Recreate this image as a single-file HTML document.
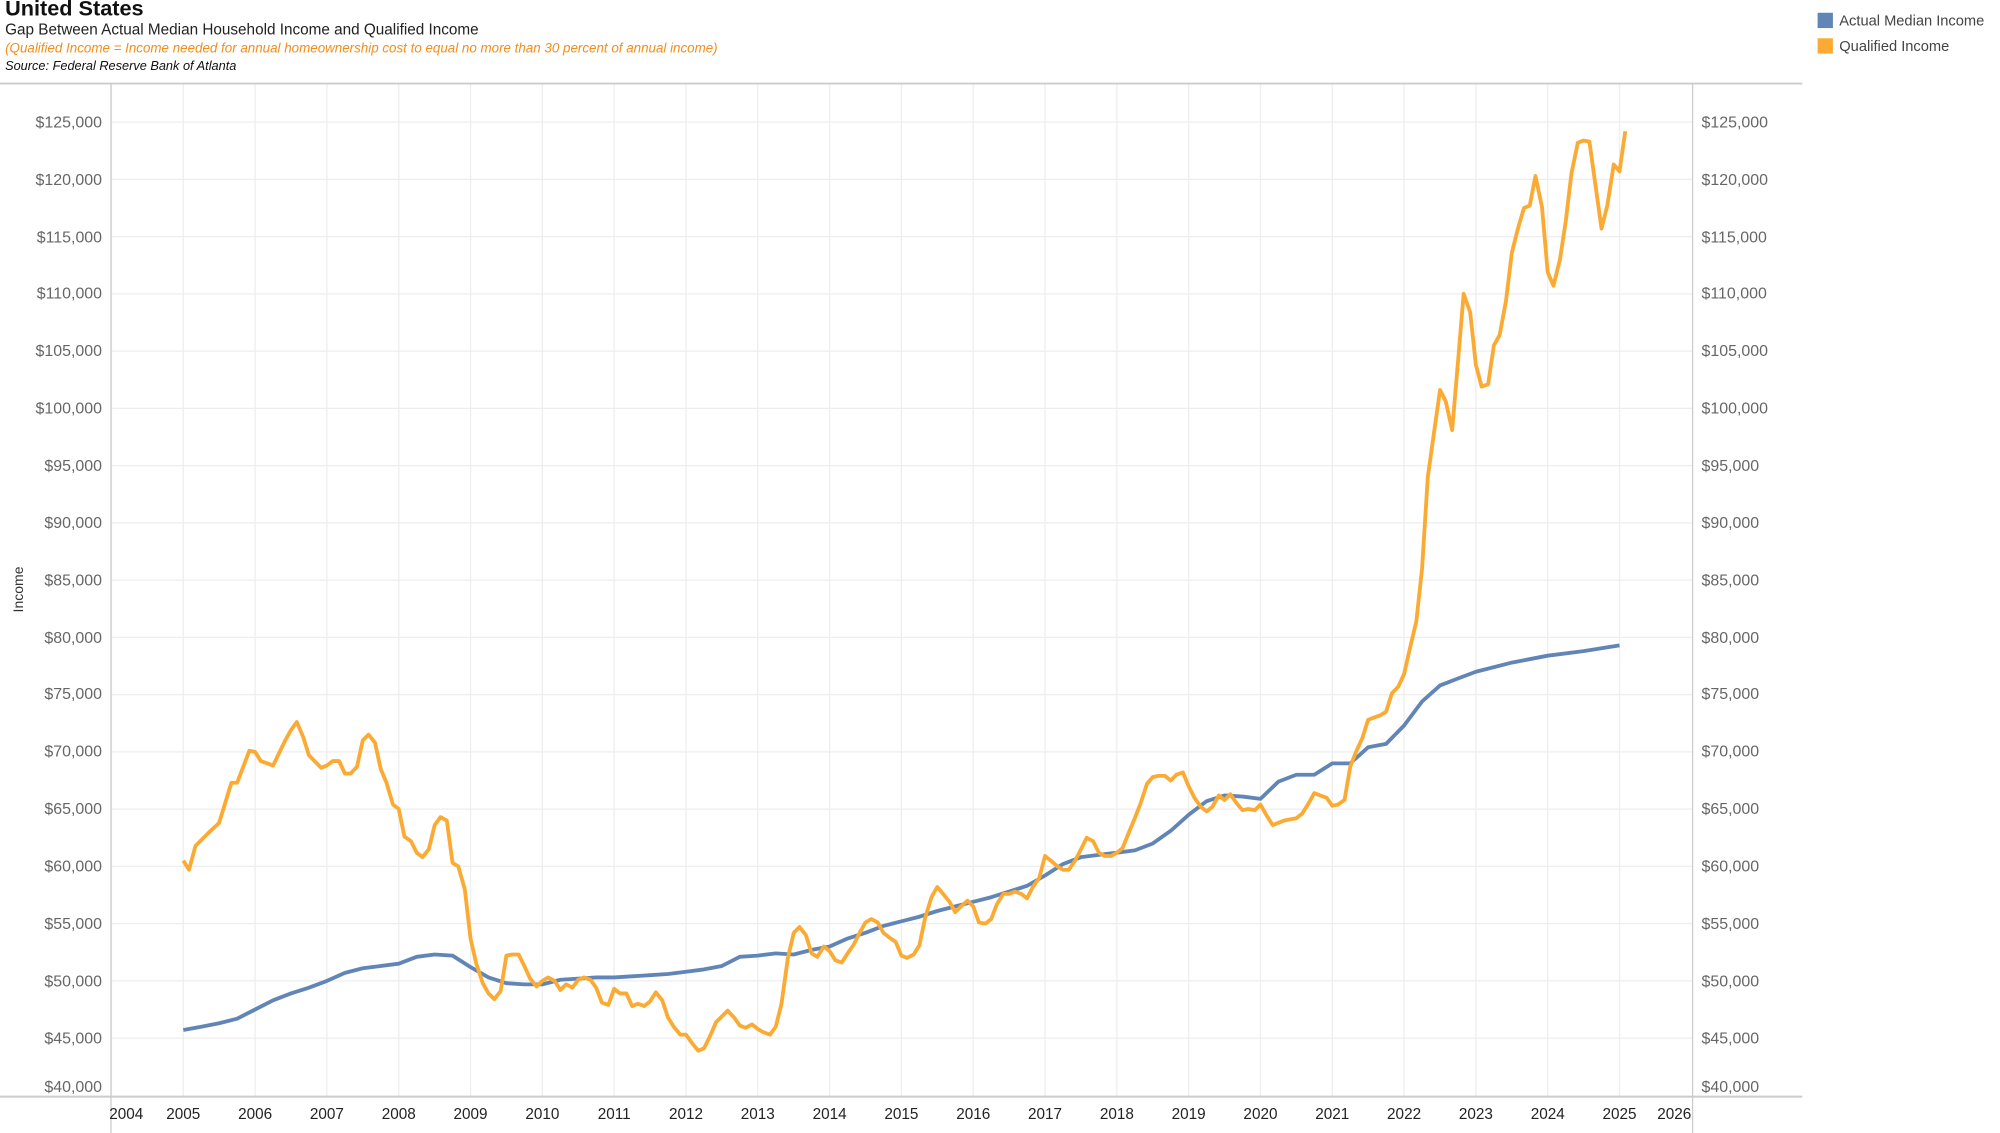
<!DOCTYPE html>
<html><head><meta charset="utf-8"><style>
html,body{margin:0;padding:0;background:#fff;}
svg{display:block;}
text{font-family:"Liberation Sans",sans-serif;}
.yl{font-size:12.5px;fill:#666;}
.xl{font-size:12px;fill:#222;text-anchor:middle;}
</style></head><body>
<svg id="s" width="2000" height="1133" viewBox="0 0 1568 888" preserveAspectRatio="none" xmlns="http://www.w3.org/2000/svg">
<rect width="1568" height="888" fill="#fff"/>
<text x="4" y="12" font-size="17" font-weight="bold" fill="#111">United States</text>
<text x="4" y="27" font-size="12" fill="#222">Gap Between Actual Median Household Income and Qualified Income</text>
<text x="4" y="41" font-size="10.5" font-style="italic" fill="#f28e1c">(Qualified Income = Income needed for annual homeownership cost to equal no more than 30 percent of annual income)</text>
<text x="4" y="55" font-size="10" font-style="italic" fill="#111">Source: Federal Reserve Bank of Atlanta</text>
<rect x="1425" y="10" width="12" height="12" fill="#6185b6"/>
<rect x="1425" y="30" width="12" height="12" fill="#fbab34"/>
<text x="1442" y="20" font-size="11.5" fill="#444">Actual Median Income</text>
<text x="1442" y="40" font-size="11.5" fill="#444">Qualified Income</text>
<g id="grid" stroke="#eeeeee" stroke-width="1"></g>
<line x1="0" y1="65.5" x2="1413" y2="65.5" stroke="#ccc" stroke-width="1.5"/>
<line x1="0" y1="859.5" x2="1413" y2="859.5" stroke="#ccc" stroke-width="1.5"/>
<line x1="87" y1="65" x2="87" y2="888" stroke="#ccc"/>
<line x1="1327" y1="65" x2="1327" y2="888" stroke="#ccc"/>
<text transform="translate(18,462) rotate(-90)" font-size="11" fill="#333" text-anchor="middle">Income</text>
<g class="yl" text-anchor="end">
<text x="80" y="100">$125,000</text><text x="80" y="145">$120,000</text><text x="80" y="190">$115,000</text><text x="80" y="234">$110,000</text><text x="80" y="279">$105,000</text><text x="80" y="324">$100,000</text><text x="80" y="369">$95,000</text><text x="80" y="414">$90,000</text><text x="80" y="459">$85,000</text><text x="80" y="504">$80,000</text><text x="80" y="548">$75,000</text><text x="80" y="593">$70,000</text><text x="80" y="638">$65,000</text><text x="80" y="683">$60,000</text><text x="80" y="728">$55,000</text><text x="80" y="773">$50,000</text><text x="80" y="818">$45,000</text><text x="80" y="856">$40,000</text>
</g>
<g class="yl" text-anchor="start">
<text x="1334" y="100">$125,000</text><text x="1334" y="145">$120,000</text><text x="1334" y="190">$115,000</text><text x="1334" y="234">$110,000</text><text x="1334" y="279">$105,000</text><text x="1334" y="324">$100,000</text><text x="1334" y="369">$95,000</text><text x="1334" y="414">$90,000</text><text x="1334" y="459">$85,000</text><text x="1334" y="504">$80,000</text><text x="1334" y="548">$75,000</text><text x="1334" y="593">$70,000</text><text x="1334" y="638">$65,000</text><text x="1334" y="683">$60,000</text><text x="1334" y="728">$55,000</text><text x="1334" y="773">$50,000</text><text x="1334" y="818">$45,000</text><text x="1334" y="856">$40,000</text>
</g>
<g class="xl">
<text x="99" y="877">2004</text><text x="143.7" y="877">2005</text><text x="200" y="877">2006</text><text x="256.3" y="877">2007</text><text x="312.6" y="877">2008</text><text x="368.9" y="877">2009</text><text x="425.2" y="877">2010</text><text x="481.5" y="877">2011</text><text x="537.8" y="877">2012</text><text x="594.1" y="877">2013</text><text x="650.4" y="877">2014</text><text x="706.7" y="877">2015</text><text x="763" y="877">2016</text><text x="819.3" y="877">2017</text><text x="875.6" y="877">2018</text><text x="931.9" y="877">2019</text><text x="988.2" y="877">2020</text><text x="1044.5" y="877">2021</text><text x="1100.8" y="877">2022</text><text x="1157.1" y="877">2023</text><text x="1213.4" y="877">2024</text><text x="1269.7" y="877">2025</text><text x="1326" y="877" text-anchor="end">2026</text>
</g>
<path id="blue" fill="none" stroke="#6185b6" stroke-width="3" stroke-linejoin="round"/>
<path id="orange" fill="none" stroke="#fbab34" stroke-width="3" stroke-linejoin="round"/>
</svg>
<script>
function X(t){return 143.7+(t-2005)*56.3;}
function Y(v){return 858.5-(v-40000)/5000*44.87;}
var g=document.getElementById('grid'),h='';
for(var yr=2004;yr<=2025;yr++){var x=X(yr);h+='<line x1="'+x+'" y1="66" x2="'+x+'" y2="860"/>';}
for(var v=45000;v<=125000;v+=5000){var y=Y(v);h+='<line x1="87" y1="'+y+'" x2="1327" y2="'+y+'"/>';}
g.innerHTML=h;
var B=[2005,45700,2005.25,46000,2005.5,46300,2005.75,46700,2006,47500,2006.25,48300,2006.5,48900,2006.75,49400,2007,50000,2007.25,50700,2007.5,51100,2007.75,51300,2008,51500,2008.25,52100,2008.5,52300,2008.75,52200,2009,51200,2009.25,50300,2009.5,49800,2009.75,49700,2010,49700,2010.25,50100,2010.5,50200,2010.75,50300,2011,50300,2011.5,50500,2011.75,50600,2012,50800,2012.25,51000,2012.5,51300,2012.75,52100,2013,52200,2013.25,52400,2013.5,52300,2013.75,52700,2014,53000,2014.25,53700,2014.5,54200,2014.75,54800,2015,55200,2015.25,55600,2015.5,56100,2015.75,56500,2016,56900,2016.25,57300,2016.5,57800,2016.75,58300,2017,59200,2017.25,60200,2017.5,60800,2017.75,61000,2018,61200,2018.25,61400,2018.5,62000,2018.75,63100,2019,64500,2019.25,65700,2019.5,66200,2019.75,66100,2020,65900,2020.25,67400,2020.5,68000,2020.75,68000,2021,69000,2021.25,69000,2021.5,70400,2021.75,70700,2022,72300,2022.25,74400,2022.5,75800,2022.75,76400,2023,77000,2023.5,77800,2024,78400,2024.5,78800,2025,79300];
var O=[2005.0,60500,2005.08,59700,2005.17,61800,2005.33,62800,2005.5,63800,2005.67,67300,2005.75,67300,2005.92,70100,2006.0,70000,2006.08,69200,2006.25,68800,2006.42,71000,2006.5,71900,2006.58,72600,2006.67,71300,2006.75,69700,2006.92,68600,2007.0,68800,2007.08,69200,2007.17,69200,2007.25,68100,2007.33,68100,2007.42,68700,2007.5,71000,2007.58,71500,2007.67,70800,2007.75,68500,2007.83,67300,2007.92,65400,2008.0,65000,2008.08,62600,2008.17,62200,2008.25,61200,2008.33,60800,2008.42,61500,2008.5,63600,2008.58,64300,2008.67,64000,2008.75,60300,2008.83,60000,2008.92,58000,2009.0,53700,2009.08,51500,2009.17,49800,2009.25,48900,2009.33,48400,2009.42,49100,2009.5,52200,2009.58,52300,2009.67,52300,2009.75,51300,2009.83,50200,2009.92,49500,2010.0,50000,2010.08,50300,2010.17,50000,2010.25,49200,2010.33,49700,2010.42,49400,2010.5,50100,2010.58,50300,2010.67,50100,2010.75,49400,2010.83,48100,2010.92,47900,2011.0,49300,2011.08,48900,2011.17,48900,2011.25,47800,2011.33,48000,2011.42,47800,2011.5,48200,2011.58,49000,2011.67,48300,2011.75,46800,2011.83,46000,2011.92,45300,2012.0,45300,2012.08,44600,2012.17,43900,2012.25,44100,2012.33,45100,2012.42,46400,2012.5,46900,2012.58,47400,2012.67,46800,2012.75,46100,2012.83,45900,2012.92,46200,2013.0,45800,2013.08,45500,2013.17,45300,2013.25,46000,2013.33,48000,2013.42,52000,2013.5,54200,2013.58,54700,2013.67,54000,2013.75,52400,2013.83,52100,2013.92,53000,2014.0,52600,2014.08,51800,2014.17,51600,2014.25,52400,2014.33,53100,2014.42,54200,2014.5,55100,2014.58,55400,2014.67,55100,2014.75,54200,2014.83,53800,2014.92,53400,2015.0,52200,2015.08,52000,2015.17,52300,2015.25,53100,2015.33,55500,2015.42,57300,2015.5,58200,2015.58,57600,2015.67,56900,2015.75,56000,2015.83,56500,2015.92,57000,2016.0,56500,2016.08,55100,2016.17,55000,2016.25,55400,2016.33,56700,2016.42,57600,2016.5,57600,2016.58,57800,2016.67,57600,2016.75,57200,2016.83,58200,2016.92,59000,2017.0,60900,2017.08,60500,2017.17,60000,2017.25,59700,2017.33,59700,2017.42,60500,2017.5,61500,2017.58,62500,2017.67,62200,2017.75,61200,2017.83,60900,2017.92,60900,2018.0,61200,2018.08,61600,2018.17,63000,2018.25,64200,2018.33,65500,2018.42,67200,2018.5,67800,2018.58,67900,2018.67,67900,2018.75,67500,2018.83,68000,2018.92,68200,2019.0,67000,2019.08,66000,2019.17,65200,2019.25,64800,2019.33,65200,2019.42,66200,2019.5,65800,2019.58,66300,2019.67,65500,2019.75,64900,2019.83,65000,2019.92,64900,2020.0,65400,2020.08,64500,2020.17,63600,2020.25,63800,2020.33,64000,2020.5,64200,2020.58,64600,2020.67,65500,2020.75,66400,2020.83,66200,2020.92,66000,2021.0,65300,2021.08,65400,2021.17,65800,2021.25,68700,2021.33,70000,2021.42,71200,2021.5,72800,2021.58,73000,2021.67,73200,2021.75,73500,2021.83,75100,2021.92,75700,2022.0,76800,2022.08,79000,2022.17,81400,2022.25,86000,2022.33,94000,2022.42,98000,2022.5,101600,2022.58,100600,2022.67,98100,2022.75,104000,2022.83,110000,2022.92,108400,2023.0,103800,2023.08,101900,2023.17,102100,2023.25,105500,2023.33,106400,2023.42,109400,2023.5,113600,2023.58,115600,2023.67,117500,2023.75,117700,2023.83,120300,2023.92,117600,2024.0,111900,2024.08,110700,2024.17,113000,2024.25,116300,2024.33,120500,2024.42,123200,2024.5,123400,2024.58,123300,2024.67,119300,2024.75,115700,2024.83,117700,2024.92,121300,2025.0,120700,2025.08,124200];
function P(a){var d='';for(var i=0;i<a.length;i+=2){d+=(i?'L':'M')+X(a[i]).toFixed(1)+','+Y(a[i+1]).toFixed(1);}return d;}
document.getElementById('blue').setAttribute('d',P(B));
document.getElementById('orange').setAttribute('d',P(O));
</script>
</body></html>
